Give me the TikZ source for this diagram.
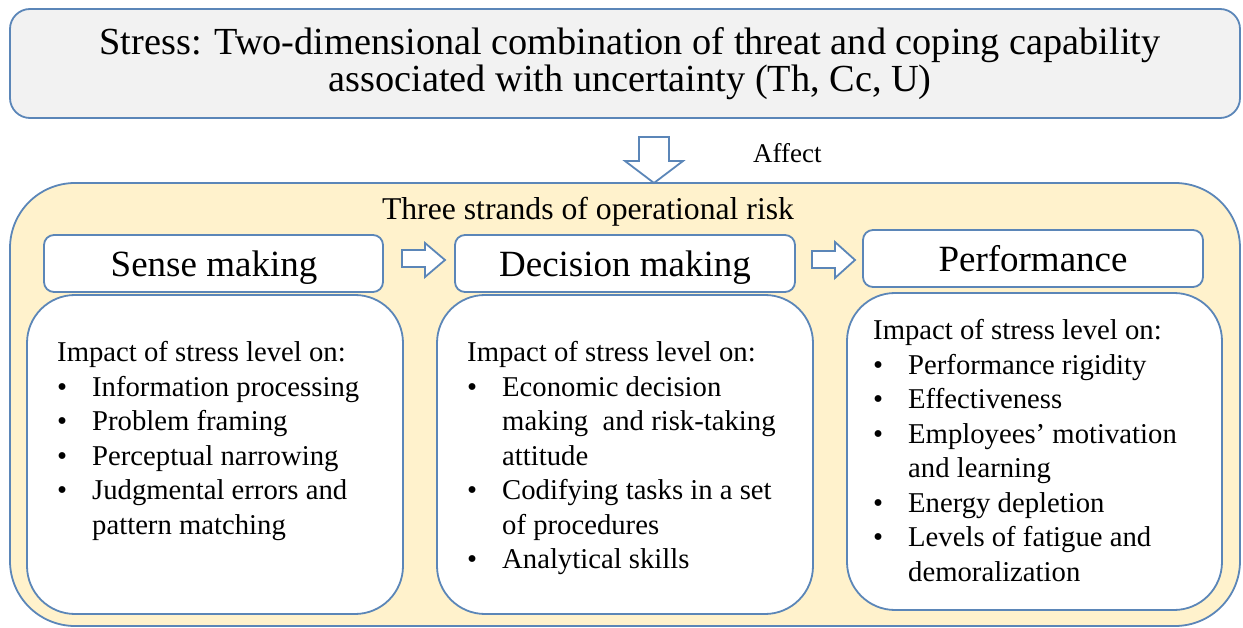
\documentclass[tikz,border=0pt]{standalone}
\usepackage{fontspec}
\setmainfont{Liberation Serif}
\definecolor{frame}{HTML}{5B86B8}
\definecolor{beige}{HTML}{FFF2CC}
\definecolor{paleGray}{HTML}{F2F2F2}
% bullet entry and its continuation line
\newcommand\bitem[1]{\makebox[35pt][l]{\textbullet}#1}
\newcommand\bcont[1]{\hspace*{35pt}#1}
\begin{document}
\begin{tikzpicture}[x=1pt,y=-1pt,
  outline/.style={draw=frame, line width=1.8pt},
  panel/.style={outline, rounded corners=#1, inner sep=0pt},
  blockarrow/.style={outline, fill=white, line join=miter},
  bodytext/.style={anchor=base west, inner sep=0pt, font=\fontsize{28.7}{34.5}\selectfont},
  headtext/.style={anchor=base, inner sep=0pt, font=\fontsize{37}{40}\selectfont}]
\useasboundingbox (0,0) rectangle (1243,628);

% outer frames
\node[panel=20pt, fill=paleGray, minimum width=1230pt, minimum height=109pt] (stress) at (625,63.5) {};
\node[panel=65pt, fill=beige, minimum width=1230pt, minimum height=443pt] (risk) at (625,404.5) {};

% title text
\node[anchor=base, inner sep=0pt, font=\fontsize{38.3}{37}\selectfont] (title1) at (630,55)
  {Stress: Two-dimensional combination of threat and coping capability};
\node[anchor=base, inner sep=0pt, font=\fontsize{38.3}{37}\selectfont] (title2) at (630,92)
  {associated with uncertainty (Th, Cc, U)};

% down arrow from the stress box into the risk box
\draw[blockarrow] (639,137) -- (669,137) -- (669,161) -- (683,161) -- (654,183)
  -- (625,161) -- (639,161) -- cycle;
\node[anchor=base west, inner sep=0pt, font=\fontsize{27}{30}\selectfont] (affect) at (753,163) {Affect};

\node[anchor=base, inner sep=0pt, font=\fontsize{31.7}{34}\selectfont] (strands) at (588,220)
  {Three strands of operational risk};

% header boxes
\node[panel=10pt, fill=white, minimum width=339pt, minimum height=57pt] (hsense) at (213.5,263.5) {};
\node[panel=10pt, fill=white, minimum width=340pt, minimum height=57pt] (hdec) at (625,263.5) {};
\node[panel=10pt, fill=white, minimum width=340pt, minimum height=57pt] (hperf) at (1033,258.5) {};
\node[headtext] (tsense) at (214,277) {Sense making};
\node[headtext] (tdec) at (625,277) {Decision making};
\node[headtext] (tperf) at (1033,272) {Performance};

% arrows between headers
\draw[blockarrow] (402,250) -- (425,250) -- (425,243) -- (445,260) -- (425,277)
  -- (425,267) -- (402,267) -- cycle;
\draw[blockarrow] (812,251) -- (835,251) -- (835,242) -- (855,260) -- (835,278)
  -- (835,268) -- (812,268) -- cycle;

% content boxes
\node[panel=48pt, fill=white, minimum width=376pt, minimum height=319pt] (bsense) at (215,454.5) {};
\node[panel=48pt, fill=white, minimum width=376pt, minimum height=319pt] (bdec) at (625,454.5) {};
\node[panel=48pt, fill=white, minimum width=375pt, minimum height=317pt] (bperf) at (1034.5,451.5) {};

\node[bodytext] (lsense) at (57,362) {\begin{tabular}[t]{@{}l@{}}
Impact of stress level on:\\
\bitem{Information processing}\\
\bitem{Problem framing}\\
\bitem{Perceptual narrowing}\\
\bitem{Judgmental errors and}\\
\bcont{pattern matching}
\end{tabular}};

\node[bodytext] (ldec) at (467,362) {\begin{tabular}[t]{@{}l@{}}
Impact of stress level on:\\
\bitem{Economic decision}\\
\bcont{making \ and risk-taking}\\
\bcont{attitude}\\
\bitem{Codifying tasks in a set}\\
\bcont{of procedures}\\
\bitem{Analytical skills}
\end{tabular}};

\node[bodytext] (lperf) at (873,340) {\begin{tabular}[t]{@{}l@{}}
Impact of stress level on:\\
\bitem{Performance rigidity}\\
\bitem{Effectiveness}\\
\bitem{Employees’ motivation}\\
\bcont{and learning}\\
\bitem{Energy depletion}\\
\bitem{Levels of fatigue and}\\
\bcont{demoralization}
\end{tabular}};
\end{tikzpicture}
\end{document}
